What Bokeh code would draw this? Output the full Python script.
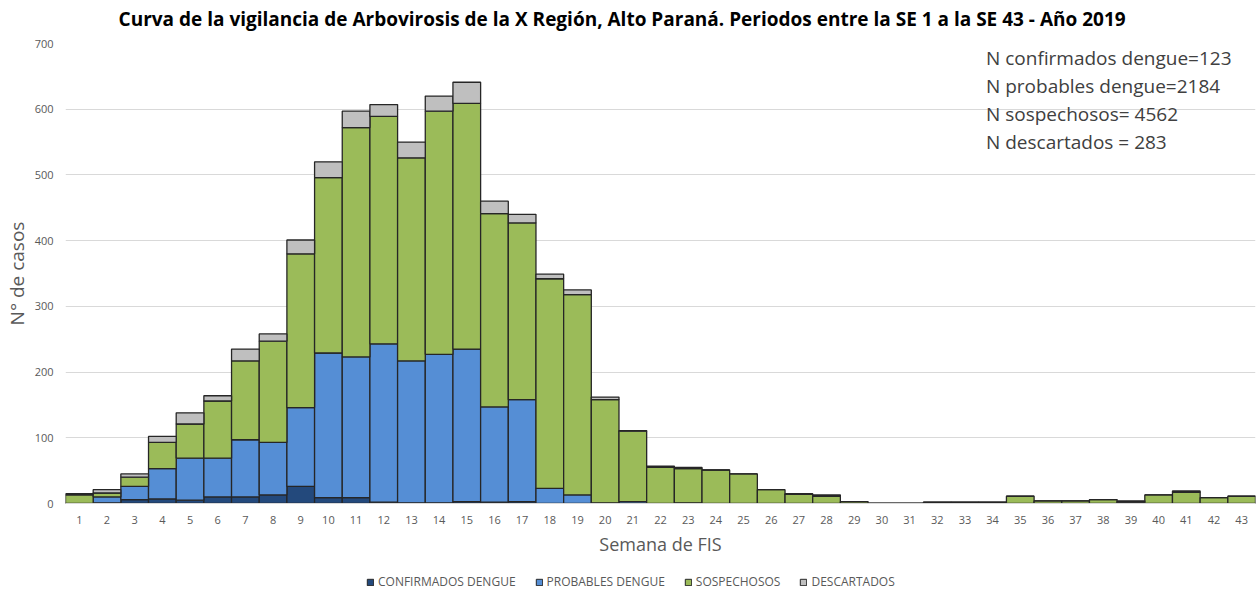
from bokeh.plotting import figure
from bokeh.models import ColumnDataSource, Legend, LegendItem, Label
from bokeh.layouts import column
from bokeh.embed import file_html
from bokeh.resources import INLINE

weeks = [str(i) for i in range(1, 44)]
confirmados = [0, 1, 6, 7, 5, 10, 10, 13, 26, 9, 9, 2, 1, 1, 3, 2, 3, 0, 0, 0, 0, 0, 1,
               0, 0, 0, 0, 0, 0, 0, 0, 0, 0, 0, 0, 0, 0, 0, 0, 0, 0, 0, 0]
probables = [0, 9, 20, 46, 64, 59, 87, 80, 120, 220, 214, 241, 216, 226, 232, 145, 155, 23, 13, 1, 3,
             0, 0, 0, 0, 0, 0, 0, 0, 0, 0, 0, 0, 0, 0, 0, 0, 0, 0, 0, 0, 0, 0]
sospechosos = [13, 6, 14, 40, 52, 87, 120, 154, 234, 267, 349, 346, 309, 370, 374, 294, 269, 319, 305, 157, 107,
               55, 52, 51, 45, 21, 14, 11, 3, 0, 0, 2, 2, 2, 11, 4, 4, 6, 2, 13, 17, 9, 11]
descartados = [2, 5, 5, 9, 17, 8, 18, 11, 21, 24, 25, 18, 24, 23, 32, 19, 13, 7, 7, 4, 1,
               2, 2, 0, 0, 0, 1, 2, 0, 0, 0, 0, 0, 0, 0, 0, 0, 0, 2, 0, 2, 0, 0]

series = ["confirmados", "probables", "sospechosos", "descartados"]
legend_labels = ["CONFIRMADOS DENGUE", "PROBABLES DENGUE", "SOSPECHOSOS", "DESCARTADOS"]
colors = ["#23497c", "#558ed5", "#9bbb59", "#bfbfbf"]
notes = ["N confirmados dengue=123", "N probables dengue=2184",
         "N sospechosos=  4562", "N descartados =   283"]
title_text = "Curva de la vigilancia de Arbovirosis de la X Región,  Alto Paraná. Periodos entre la SE 1 a la SE 43  - Año 2019"

source = ColumnDataSource(dict(weeks=weeks, confirmados=confirmados, probables=probables,
                               sospechosos=sospechosos, descartados=descartados))

FONT = "Open Sans"
OUTLINE = "#262626"

# title strip (its frame is aligned with the chart frame by the column layout)
tp = figure(width=1257, height=37, x_range=(64, 1255), y_range=(0, 37),
            output_backend="svg", toolbar_location=None,
            x_axis_location=None, y_axis_location=None,
            min_border_left=0, min_border_right=0, min_border_top=0, min_border_bottom=0)
tp.grid.grid_line_color = None
tp.outline_line_color = None
tp.add_layout(Label(x=626, y=19, text=title_text, text_font=FONT, text_font_size="19px",
                    text_font_style="bold", text_color="#000000",
                    text_align="center", text_baseline="middle"))

p = figure(x_range=weeks, y_range=(0, 700), width=1257, height=531,
           output_backend="svg", toolbar_location=None,
           min_border_left=63, min_border_right=2, min_border_top=6, min_border_bottom=65)
p.outline_line_color = None
p.background_fill_color = "white"

renderers = p.vbar_stack(series, x="weeks", width=1.0, source=source, color=colors,
                         line_color=OUTLINE, line_width=1.3)

p.yaxis.ticker = [0, 100, 200, 300, 400, 500, 600, 700]
p.yaxis.axis_label = "N° de casos"
p.yaxis.axis_label_text_font = FONT
p.yaxis.axis_label_text_font_size = "19px"
p.yaxis.axis_label_text_font_style = "normal"
p.yaxis.axis_label_text_color = "#595959"
p.yaxis.axis_label_standoff = 2
p.yaxis.major_label_text_font = FONT
p.yaxis.major_label_text_font_size = "11px"
p.yaxis.major_label_text_color = "#595959"
p.yaxis.major_label_standoff = 12
p.yaxis.axis_line_color = None
p.yaxis.major_tick_line_color = None
p.yaxis.major_tick_out = 0
p.yaxis.minor_tick_line_color = None
p.yaxis.minor_tick_out = 0

p.xaxis.axis_label = "Semana de FIS"
p.xaxis.axis_label_text_font = FONT
p.xaxis.axis_label_text_font_size = "18px"
p.xaxis.axis_label_text_font_style = "normal"
p.xaxis.axis_label_text_color = "#595959"
p.xaxis.axis_label_standoff = 5
p.xaxis.major_label_text_font = FONT
p.xaxis.major_label_text_font_size = "11px"
p.xaxis.major_label_text_color = "#595959"
p.xaxis.major_label_standoff = 12
p.xaxis.axis_line_color = "#d9d9d9"
p.xaxis.major_tick_line_color = None
p.xaxis.major_tick_out = 0
p.xaxis.minor_tick_line_color = None

p.xgrid.grid_line_color = None
p.ygrid.grid_line_color = "#d9d9d9"
p.ygrid.grid_line_width = 1
p.x_range.range_padding = 0

ys = [677.3, 634.7, 592.1, 549.5]
for t, yv in zip(notes, ys):
    p.add_layout(Label(x=33.26, y=yv, text=t, text_font=FONT, text_font_size="19px",
                       text_color="#404040", text_baseline="middle"))

# legend strip under the chart
lg = figure(width=1257, height=22, x_range=(0, 1), y_range=(0, 1),
            output_backend="svg", toolbar_location=None,
            x_axis_location=None, y_axis_location=None,
            min_border_left=0, min_border_right=0, min_border_top=0, min_border_bottom=0)
lg.grid.grid_line_color = None
lg.outline_line_color = None
nan = float("nan")
dummies = [lg.vbar(x=[nan], top=[nan], bottom=[nan], width=1, fill_color=c, line_color=OUTLINE, line_width=1)
           for c in colors]
legend = Legend(items=[LegendItem(label=l, renderers=[r]) for l, r in zip(legend_labels, dummies)],
                orientation="horizontal", location=(301, 0),
                label_text_font=FONT, label_text_font_size="12px", label_text_color="#595959",
                glyph_width=8, glyph_height=8, label_standoff=4, spacing=19,
                border_line_color=None, background_fill_alpha=0, margin=0, padding=0)
lg.add_layout(legend)

layout = column(tp, p, lg, spacing=0)
open("out.html", "w").write(file_html(layout, INLINE))
